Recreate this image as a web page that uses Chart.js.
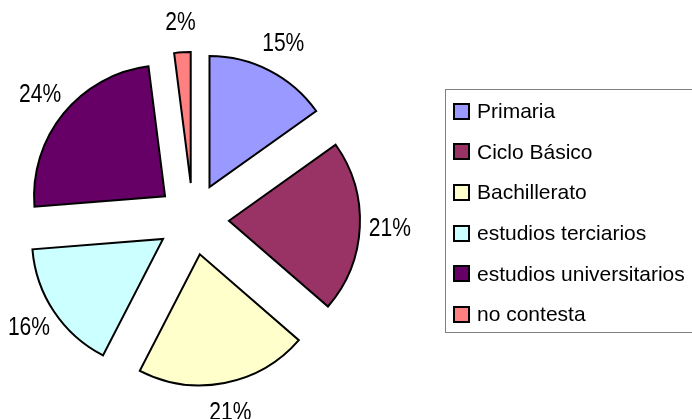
<!DOCTYPE html>
<html>
<head>
<meta charset="utf-8">
<script src="https://cdn.jsdelivr.net/npm/chart.js@4/dist/chart.umd.min.js"></script>
<style>
  html, body { margin: 0; padding: 0; background: #fff; overflow: hidden; }
  #wrap { position: relative; width: 692px; height: 419px; }
  #legend {
    position: absolute; left: 445px; top: 89px; width: 320px; height: 244px;
    border: 1px solid #808080; box-sizing: border-box; padding-top: 1px;
    font-family: "Liberation Sans", Arial, sans-serif; font-size: 21px; color: #000;
  }
  .row { height: 40.6px; display: flex; align-items: center; white-space: nowrap; }
  .sw { width: 13px; height: 13px; border: 2px solid #000; margin: 0 7px 0 7px; flex: none; }
</style>
</head>
<body>
<div id="wrap">
  <canvas id="pie" width="692" height="419"></canvas>
  <div id="legend"></div>
</div>
<script>
const labels = ['Primaria', 'Ciclo Básico', 'Bachillerato', 'estudios terciarios', 'estudios universitarios', 'no contesta'];
const values = [15, 21, 21, 16, 24, 2];
const pctLabels = ['15%', '21%', '21%', '16%', '24%', '2%'];
const colors = ['#9999FF', '#993366', '#FFFFCC', '#CCFFFF', '#660066', '#FF8080'];

const RADIUS = 131;   // pie radius in px
const EXPLODE = 36;   // how far each slice is pulled out

// legend on the right, drawn as html
const legend = document.getElementById('legend');
labels.forEach((name, i) => {
  const row = document.createElement('div');
  row.className = 'row';
  row.innerHTML = `<span class="sw" style="background:${colors[i]}"></span><span>${name}</span>`;
  legend.appendChild(row);
});

// pull each slice out along its middle angle (chart.js' own offset
// also changes radius/angle of thin slices, so move the arc centre instead)
const explode = {
  id: 'explode',
  afterDatasetUpdate(chart, args) {
    args.meta.data.forEach(arc => {
      const mid = (arc.startAngle + arc.endAngle) / 2;
      arc.x += Math.cos(mid) * EXPLODE;
      arc.y += Math.sin(mid) * EXPLODE;
    });
  }
};

// percentage labels outside each slice
const outsideLabels = {
  id: 'outsideLabels',
  afterDatasetsDraw(chart) {
    const ctx = chart.ctx;
    const meta = chart.getDatasetMeta(0);
    ctx.save();
    ctx.fillStyle = '#000';
    ctx.textAlign = 'center';
    ctx.textBaseline = 'middle';
    ctx.font = '26px "Liberation Sans", Arial, sans-serif';
    meta.data.forEach((arc, i) => {
      const p = arc.getProps(['x', 'y', 'startAngle', 'endAngle']);
      const mid = (p.startAngle + p.endAngle) / 2;
      const d = RADIUS + 30;
      ctx.save();
      ctx.translate(p.x + Math.cos(mid) * d, p.y + Math.sin(mid) * d);
      ctx.scale(0.81, 1); // narrow face like the original
      ctx.fillText(pctLabels[i], 0, 0);
      ctx.restore();
    });
    ctx.restore();
  }
};

new Chart(document.getElementById('pie').getContext('2d'), {
  type: 'pie',
  data: {
    labels: labels,
    datasets: [{
      data: values,
      backgroundColor: colors,
      borderColor: '#000',
      borderWidth: 2,
      borderJoinStyle: 'miter',
      hoverOffset: 0
    }]
  },
  options: {
    responsive: false,
    animation: false,
    radius: RADIUS,
    layout: { padding: { left: 0, right: 306, top: 19, bottom: 0 } },
    plugins: {
      legend: { display: false },
      tooltip: { enabled: false }
    }
  },
  plugins: [explode, outsideLabels]
});
</script>
</body>
</html>
